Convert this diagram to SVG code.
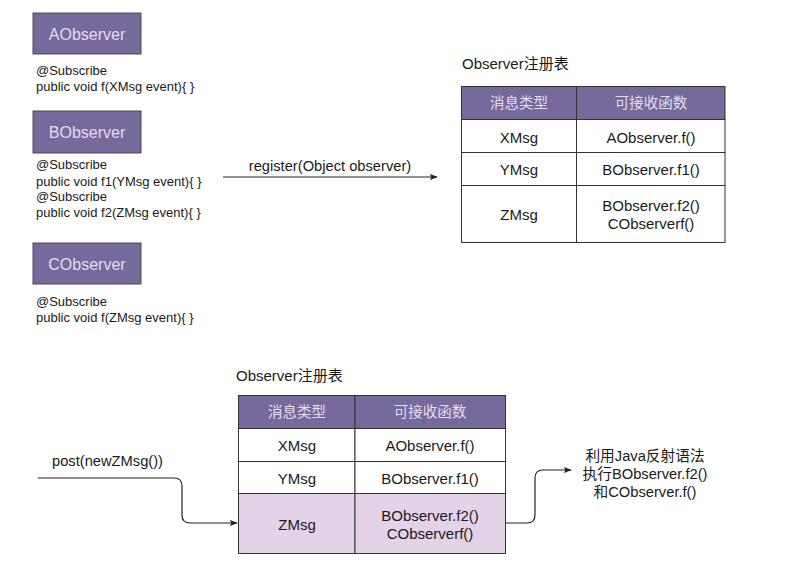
<svg xmlns="http://www.w3.org/2000/svg" width="792" height="572" viewBox="0 0 792 572">
<style>
text{font-family:"Liberation Sans","Noto Sans CJK SC",Arial,sans-serif;fill:#1a1a1a}
.box{fill:#76699b;stroke:#4d4a55;stroke-width:1}
.bt{font-size:16px;fill:#e4ddf0;text-anchor:middle;dominant-baseline:central}
.code{font-size:13px}
.cell{fill:#ffffff;stroke:#333;stroke-width:1}
.hl{fill:#e3d2e8;stroke:#333;stroke-width:1}
.hd{fill:#76699b;stroke:#333;stroke-width:1}
.ht{font-size:14.5px;fill:#e4ddf0;text-anchor:middle;dominant-baseline:central}
.ct{font-size:15px;text-anchor:middle;dominant-baseline:central}
.title{font-size:15px;dominant-baseline:central}
.lbl{font-size:14.7px;text-anchor:middle;dominant-baseline:central}
.conn{fill:none;stroke:#222;stroke-width:1.2}
</style>
<defs>
<marker id="arr" viewBox="0 0 10 10" refX="9" refY="5" markerWidth="8" markerHeight="8" markerUnits="userSpaceOnUse" orient="auto">
<path d="M0,1 L10,5 L0,9 L2,5 Z" fill="#222"/>
</marker>
</defs>
<rect width="792" height="572" fill="#ffffff"/>

<g id="AObserver">
<rect class="box" x="33" y="13" width="108" height="41"/>
<text class="bt" x="87" y="34">AObserver</text>
<text class="code" x="36" y="75">@Subscribe</text>
<text class="code" x="36" y="91">public void f(XMsg event){ }</text>
</g>

<g id="BObserver">
<rect class="box" x="33" y="111" width="108" height="42"/>
<text class="bt" x="87" y="132">BObserver</text>
<text class="code" x="36" y="169">@Subscribe</text>
<text class="code" x="36" y="186">public void f1(YMsg event){ }</text>
<text class="code" x="36" y="201">@Subscribe</text>
<text class="code" x="36" y="217">public void f2(ZMsg event){ }</text>
</g>

<g id="CObserver">
<rect class="box" x="33" y="243" width="108" height="41"/>
<text class="bt" x="87" y="264">CObserver</text>
<text class="code" x="36" y="306">@Subscribe</text>
<text class="code" x="36" y="322">public void f(ZMsg event){ }</text>
</g>

<g id="table1">
<text class="title" x="462" y="63">Observer注册表</text>
<rect class="hd" x="461.5" y="86.5" width="115" height="33"/>
<rect class="hd" x="576.5" y="86.5" width="148.5" height="33"/>
<text class="ht" x="519" y="103">消息类型</text>
<text class="ht" x="651" y="103">可接收函数</text>
<rect class="cell" x="461.5" y="119.5" width="115" height="33"/>
<rect class="cell" x="576.5" y="119.5" width="148.5" height="33"/>
<text class="ct" x="519" y="137">XMsg</text>
<text class="ct" x="651" y="137">AObserver.f()</text>
<rect class="cell" x="461.5" y="152.5" width="115" height="33"/>
<rect class="cell" x="576.5" y="152.5" width="148.5" height="33"/>
<text class="ct" x="519" y="169">YMsg</text>
<text class="ct" x="651" y="169">BObserver.f1()</text>
<rect class="cell" x="461.5" y="185.5" width="115" height="57"/>
<rect class="cell" x="576.5" y="185.5" width="148.5" height="57"/>
<text class="ct" x="519" y="214">ZMsg</text>
<text class="ct" x="651" y="205">BObserver.f2()</text>
<text class="ct" x="651" y="223">CObserverf()</text>
</g>

<g id="table2">
<text class="title" x="236" y="375">Observer注册表</text>
<rect class="hd" x="238.5" y="395.5" width="116.5" height="33"/>
<rect class="hd" x="355" y="395.5" width="150.5" height="33"/>
<text class="ht" x="297" y="412">消息类型</text>
<text class="ht" x="430" y="412">可接收函数</text>
<rect class="cell" x="238.5" y="428.5" width="116.5" height="33"/>
<rect class="cell" x="355" y="428.5" width="150.5" height="33"/>
<text class="ct" x="297" y="445">XMsg</text>
<text class="ct" x="430" y="445">AObserver.f()</text>
<rect class="cell" x="238.5" y="461.5" width="116.5" height="32"/>
<rect class="cell" x="355" y="461.5" width="150.5" height="32"/>
<text class="ct" x="297" y="478">YMsg</text>
<text class="ct" x="430" y="478">BObserver.f1()</text>
<rect class="hl" x="238.5" y="493.5" width="116.5" height="60"/>
<rect class="hl" x="355" y="493.5" width="150.5" height="60"/>
<text class="ct" x="297" y="524">ZMsg</text>
<text class="ct" x="430" y="515">BObserver.f2()</text>
<text class="ct" x="430" y="533">CObserverf()</text>
</g>

<g id="result">
<text class="lbl" x="645" y="456">利用Java反射语法</text>
<text class="lbl" x="645" y="474">执行BObserver.f2()</text>
<text class="lbl" x="645" y="492">和CObserver.f()</text>
</g>

<g id="connectors">
<path class="conn" d="M223,177 L437,177" marker-end="url(#arr)"/>
<text class="lbl" x="330" y="166">register(Object observer)</text>
<path class="conn" d="M38,478 L174,478 Q182,478 182,486 L182,515 Q182,523 190,523 L237,523" marker-end="url(#arr)"/>
<text class="lbl" x="52" y="461" style="text-anchor:start">post(newZMsg())</text>
<path class="conn" d="M506,523 L527,523 Q535,523 535,515 L535,478 Q535,470 543,470 L571,470" marker-end="url(#arr)"/>
</g>
</svg>
